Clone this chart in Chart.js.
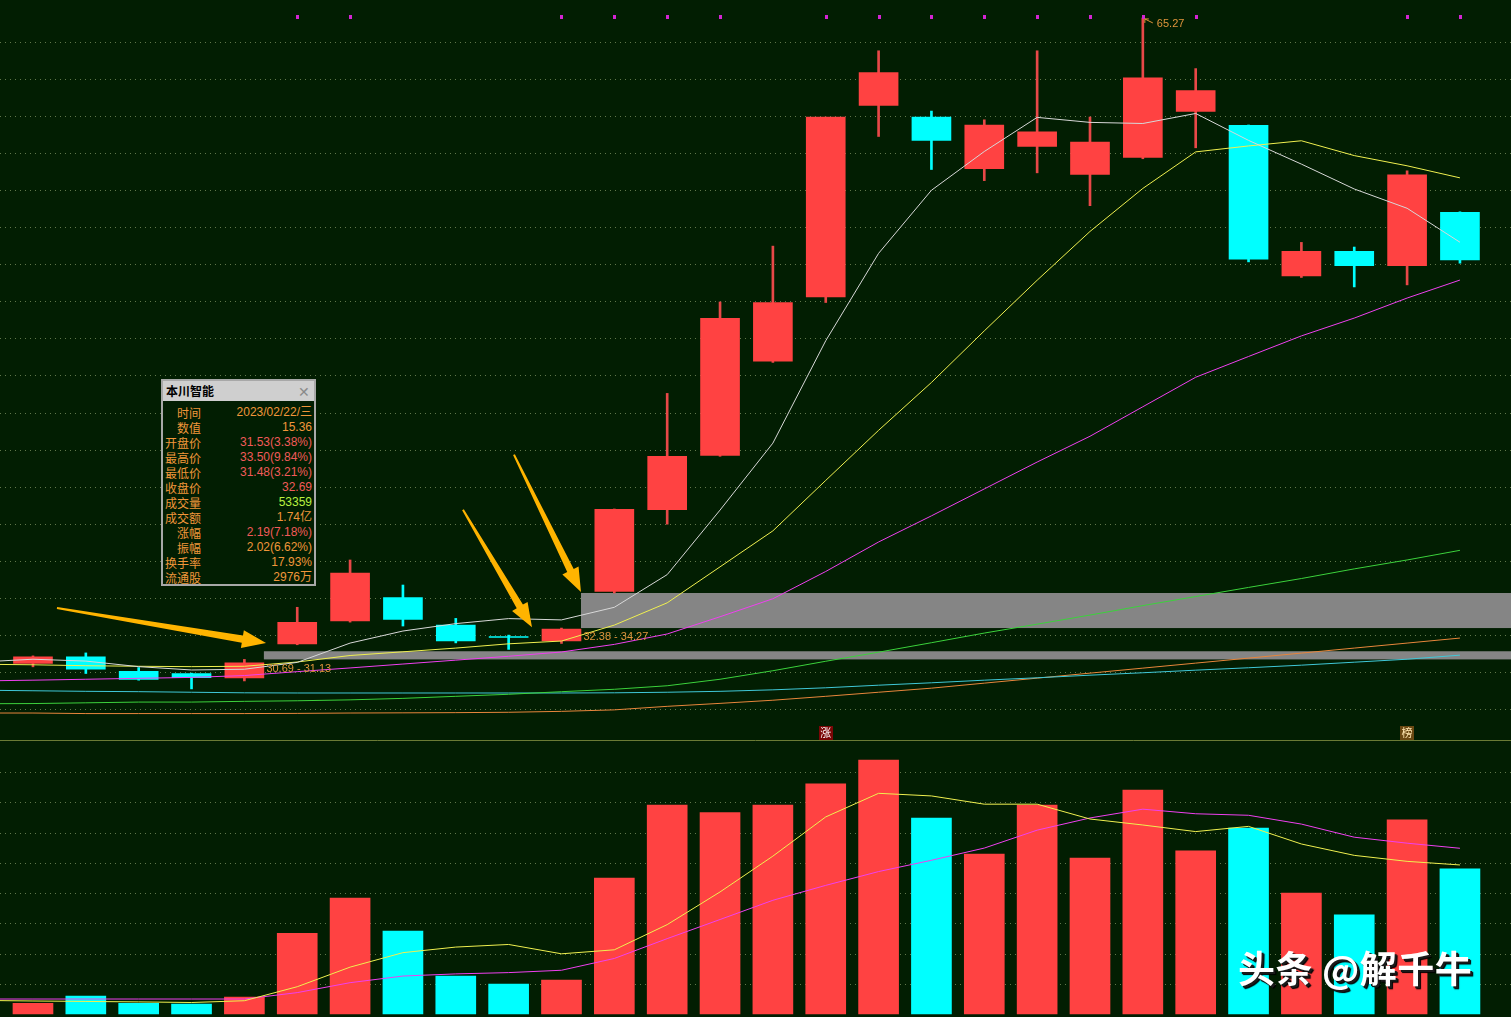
<!DOCTYPE html>
<html><head><meta charset="utf-8">
<script src="https://cdn.jsdelivr.net/npm/chart.js@4.4.0/dist/chart.umd.min.js"></script>
<style>
html,body{margin:0;padding:0;background:#021e02;width:1511px;height:1017px;overflow:hidden;}
#wrap{position:relative;width:1511px;height:1017px;background:#021e02;}
#pc{position:absolute;left:0;top:0;}
#vc{position:absolute;left:0;top:741px;}
#tip{position:absolute;left:161px;top:379px;width:151px;height:203px;border:2px solid #a8a8a8;background:#021e02;font-family:"Liberation Sans","Noto Sans CJK SC",sans-serif;font-size:12px;}
#tip .ttl{height:20px;background:#cfcfcf;color:#000;font-weight:bold;line-height:20px;padding-left:3px;position:relative;font-family:"Noto Sans CJK SC",sans-serif;}
#tip .ttl span{position:absolute;right:4px;top:0;color:#8a8a8a;font-weight:normal;font-size:14px;}
#tip .row{position:absolute;left:0;width:151px;height:15px;line-height:15px;}
#tip .lab{position:absolute;right:113px;color:#f0963a;font-family:"Noto Sans CJK SC",sans-serif;}
#tip .val{position:absolute;right:2px;white-space:nowrap;}
#wm{position:absolute;left:1238px;top:945px;font-family:"Noto Sans CJK SC",sans-serif;font-weight:bold;font-size:37px;line-height:44px;letter-spacing:0.5px;color:#ffffff;text-shadow:2px 2px 0 #1a1a1a,3px 3px 1px #000;white-space:nowrap;}
</style></head><body>
<div id="wrap">
<canvas id="pc" width="1511" height="741"></canvas>
<canvas id="vc" width="1511" height="276"></canvas>
<div id="tip"></div>
<div id="wm">头条 @解千牛</div>
</div>
<script>
// ---------- data ----------
const open  = [30.47,30.83,30.05,29.93,29.69,31.53,32.76,34.02,32.54,31.89,31.69,34.35,38.76,41.69,46.77,50.23,60.56,59.92,57.14,58.34,56.83,57.75,60.23,59.48,51.37,52.69,51.91,54.79];
const high  = [30.88,31.04,30.25,29.95,30.69,33.50,36.05,34.70,32.90,32.00,32.38,38.80,45.03,49.96,52.97,59.92,63.50,60.25,59.78,63.50,59.93,65.27,62.54,59.50,53.17,52.92,57.03,54.82];
const low   = [30.29,29.93,29.57,29.10,29.53,31.48,32.70,32.49,31.58,31.23,31.55,34.27,37.98,41.64,46.70,49.93,58.88,57.10,56.50,56.92,55.15,57.68,58.27,52.12,51.28,50.77,50.88,52.05];
const close = [30.83,30.16,29.61,29.71,30.50,32.69,35.35,32.85,31.69,31.87,32.32,38.78,41.64,49.08,49.93,59.92,62.32,58.67,59.50,59.13,58.58,62.04,61.35,52.27,52.69,51.91,56.81,52.23];
const volume= [7100,11900,7100,6600,11200,53359,76700,54900,25100,19800,22500,89900,138200,133100,138200,152100,167900,129600,105800,138200,103100,148100,107800,123000,80000,65500,128300,95900];

// moving averages, first value belongs to index -1
const MA_START = -1;
const ma5   = [30.55,30.70,30.60,30.30,30.12,30.16,30.53,31.57,32.22,32.62,32.89,32.82,33.50,35.26,38.74,42.35,47.87,52.58,55.98,58.07,59.91,59.64,59.58,60.12,58.67,57.39,56.05,55.01,53.18];
const ma10  = [30.43,30.40,30.35,30.32,30.30,30.32,30.55,30.90,31.10,31.30,31.53,31.68,32.54,33.74,35.68,37.62,40.34,43.04,45.62,48.40,51.13,53.76,56.08,58.05,58.37,58.65,57.85,57.30,56.65];
const ma20  = [29.53,29.57,29.62,29.67,29.72,29.82,30.03,30.23,30.44,30.65,30.86,31.09,31.50,32.06,32.99,33.96,35.43,37.02,38.43,39.88,41.33,42.72,44.31,45.90,47.02,48.13,49.09,50.17,51.14];
const maGreen = [28.30,28.31,28.35,28.39,28.39,28.43,28.46,28.51,28.59,28.70,28.81,28.95,29.08,29.27,29.62,30.08,30.59,31.08,31.59,32.11,32.59,33.08,33.59,34.08,34.57,35.05,35.57,36.05,36.57];
const maCyan  = [29.03,29.00,28.97,28.95,28.92,28.89,28.88,28.88,28.88,28.88,28.88,28.88,28.89,28.92,28.97,29.05,29.16,29.30,29.43,29.57,29.70,29.84,29.97,30.11,30.24,30.38,30.54,30.70,30.92];
const maOrange= [27.80,27.80,27.77,27.77,27.77,27.77,27.78,27.80,27.81,27.82,27.84,27.89,27.97,28.16,28.32,28.49,28.70,28.92,29.14,29.41,29.68,29.95,30.22,30.49,30.76,31.03,31.30,31.57,31.84];
const volMa5  = [9000,8600,8300,8000,7600,8780,18030,30990,40550,44250,45970,39800,42440,59100,80700,104380,130300,145900,144180,138720,138720,128920,124960,120600,124040,112400,104880,100920,98540];
const volMa10 = [9900,9900,9900,9900,9900,9900,14140,20710,25100,26510,27376,28916,36716,49826,62476,75176,85050,94170,101640,109710,121550,129610,135430,132390,131380,125560,116900,112940,109570];

const priceGrid = [28,30,32,34,36,38,40,42,44,46,48,50,52,54,56,58,60,62,64];
const volGrid = [20000,40000,60000,80000,100000,120000,140000,160000];
const signalIdx = [5,6,10,11,12,13,15,16,17,18,19,20,21,22,26,27];
const gaps = [
  {from:4,  lo:30.69, hi:31.13, label:'30.69 - 31.13'},
  {from:10, lo:32.38, hi:34.27, label:'32.38 - 34.27'}
];
const highMark = {idx:21, value:65.27, label:'65.27'};
const tags = [{idx:15, text:'涨', bg:'#7a0606', fg:'#ffffff'},{idx:26, text:'榜', bg:'#6a4812', fg:'#ffe6b0'}];
// arrows in data space: [index, price]
const arrows = [
  {from:[0.454,33.46], to:[4.41,31.57]},
  {from:[8.136,38.76], to:[9.442,32.43]},
  {from:[9.101,41.73], to:[10.369,34.32]}
];
const tipRows = [
  ['时间','2023/02/22/三','#f0963a'],
  ['数值','15.36','#f0963a'],
  ['开盘价','31.53(3.38%)','#f05a5a'],
  ['最高价','33.50(9.84%)','#f05a5a'],
  ['最低价','31.48(3.21%)','#f05a5a'],
  ['收盘价','32.69','#f05a5a'],
  ['成交量','53359','#b8f040'],
  ['成交额','1.74亿','#f0963a'],
  ['涨幅','2.19(7.18%)','#f05a5a'],
  ['振幅','2.02(6.62%)','#f0963a'],
  ['换手率','17.93%','#f0963a'],
  ['流通股','2976万','#f0963a']
];

// ---------- styles ----------
const RED='#ff4242', RED_WICK='#e84848', CYAN='#00ffff';
const GRID='rgba(130,150,100,0.75)';
const X_MIN=-0.624, X_MAX=27.966;
const PX_PER=18.55;
const P_MAX=34.27+593/PX_PER, P_MIN=34.27-148/PX_PER;
const V_MAX=273*20000/30.25, V_MIN=-3*20000/30.25;

const idx=[...Array(open.length).keys()];
const up=i=>close[i]>=open[i];
const lineDs=(arr,color,yid,w)=>({type:'line',data:arr.map((v,k)=>({x:k+MA_START,y:v})),borderColor:color,borderWidth:w||1,pointRadius:0,tension:0,fill:false,order:0,yAxisID:yid});

const gridPlugin=(vals,axis)=>({id:'grid'+axis,beforeDatasetsDraw(chart){
  const ctx=chart.ctx,s=chart.scales[axis],a=chart.chartArea;
  ctx.save();ctx.strokeStyle=GRID;ctx.lineWidth=1;ctx.setLineDash([1,4]);
  vals.forEach(v=>{const y=Math.round(s.getPixelForValue(v))+0.5;ctx.beginPath();ctx.moveTo(a.left,y);ctx.lineTo(a.right,y);ctx.stroke();});
  ctx.restore();}});

const bandPlugin={id:'bands',beforeDatasetsDraw(chart){
  const ctx=chart.ctx,xs=chart.scales.x,ys=chart.scales.y,a=chart.chartArea;
  ctx.save();ctx.fillStyle='#858585';
  gaps.forEach(g=>{const x0=xs.getPixelForValue(g.from)+19.5;const y0=ys.getPixelForValue(g.hi),y1=ys.getPixelForValue(g.lo);ctx.fillRect(x0,y0,a.right-x0,y1-y0);});
  ctx.restore();}};

function drawArrow(ctx,x1,y1,x2,y2){
  const dx=x2-x1,dy=y2-y1,len=Math.hypot(dx,dy),ux=dx/len,uy=dy/len,nx=-uy,ny=ux;
  const hl=24,hw=9,s0=1,s1=3.6;const bx=x2-ux*hl,by=y2-uy*hl;
  ctx.beginPath();ctx.moveTo(x1+nx*s0,y1+ny*s0);ctx.lineTo(bx+nx*s1,by+ny*s1);ctx.lineTo(bx+nx*hw,by+ny*hw);ctx.lineTo(x2,y2);
  ctx.lineTo(bx-nx*hw,by-ny*hw);ctx.lineTo(bx-nx*s1,by-ny*s1);ctx.lineTo(x1-nx*s0,y1-ny*s0);ctx.closePath();ctx.fill();
}

const annoPlugin={id:'anno',afterDatasetsDraw(chart){
  const ctx=chart.ctx,xs=chart.scales.x,ys=chart.scales.y,a=chart.chartArea;
  ctx.save();
  // gap labels
  ctx.font='11px "Liberation Sans","DejaVu Sans",sans-serif';ctx.fillStyle='#e0943c';ctx.textBaseline='top';ctx.textAlign='left';
  gaps.forEach((g,k)=>{const x0=xs.getPixelForValue(g.from)+21;const y1=ys.getPixelForValue(g.lo);ctx.fillText(g.label,x0+1,y1+(k===0?4:3));});
  // signal markers
  ctx.fillStyle='#d424d4';
  signalIdx.forEach(i=>{const x=Math.round(xs.getPixelForValue(i));ctx.fillRect(x-1,a.top+15,3,4);});
  // high mark
  const hx=xs.getPixelForValue(highMark.idx),hy=ys.getPixelForValue(highMark.value);
  ctx.strokeStyle='#e0943c';ctx.lineWidth=1;ctx.beginPath();ctx.moveTo(hx+2,hy+1);ctx.lineTo(hx+10,hy+5);ctx.moveTo(hx+2,hy+1);ctx.lineTo(hx+2,hy+5);ctx.moveTo(hx+2,hy+1);ctx.lineTo(hx+6,hy+1);ctx.stroke();
  ctx.fillStyle='#e0943c';ctx.textBaseline='middle';ctx.fillText(highMark.label,hx+14,hy+6);
  // arrows
  ctx.fillStyle='#ffb400';
  arrows.forEach(r=>drawArrow(ctx,xs.getPixelForValue(r.from[0]),ys.getPixelForValue(r.from[1]),xs.getPixelForValue(r.to[0]),ys.getPixelForValue(r.to[1])));
  // tags
  ctx.font='11px "Noto Sans CJK SC",sans-serif';ctx.textAlign='center';ctx.textBaseline='middle';
  tags.forEach(t=>{const x=xs.getPixelForValue(t.idx);ctx.fillStyle=t.bg;ctx.fillRect(Math.round(x)-7,a.bottom-15,14,14);ctx.fillStyle=t.fg;ctx.fillText(t.text,x,a.bottom-8);});
  // separator
  ctx.strokeStyle='#6b7b35';ctx.lineWidth=1;ctx.beginPath();ctx.moveTo(a.left,a.bottom-0.5);ctx.lineTo(a.right,a.bottom-0.5);ctx.stroke();
  ctx.restore();}};

const commonOpts=(ymin,ymax)=>({responsive:false,animation:false,events:[],
  layout:{padding:0},
  plugins:{legend:{display:false},tooltip:{enabled:false}},
  scales:{x:{type:'linear',min:X_MIN,max:X_MAX,display:false,offset:false},
          y:{type:'linear',min:ymin,max:ymax,display:false,beginAtZero:false}}});

new Chart(document.getElementById('pc'),{
  type:'bar',
  data:{datasets:[
    lineDs(ma5,'#d8d8d8','y'),
    lineDs(ma10,'#f0f050','y'),
    lineDs(ma20,'#f040f0','y'),
    lineDs(maGreen,'#3cd23c','y'),
    lineDs(maCyan,'#40c8d8','y'),
    lineDs(maOrange,'#e8863c','y'),
    {type:'bar',data:idx.map(i=>({x:i,y:[open[i],close[i]]})),backgroundColor:idx.map(i=>up(i)?RED:CYAN),barThickness:39,grouped:false,minBarLength:1,borderWidth:0,order:1},
    {type:'bar',data:idx.map(i=>({x:i,y:[low[i],high[i]]})),backgroundColor:idx.map(i=>up(i)?RED_WICK:CYAN),barThickness:2,grouped:false,borderWidth:0,order:2}
  ]},
  options:commonOpts(P_MIN,P_MAX),
  plugins:[gridPlugin(priceGrid,'y'),bandPlugin,annoPlugin]
});

new Chart(document.getElementById('vc'),{
  type:'bar',
  data:{datasets:[
    lineDs(volMa5,'#f0f050','y'),
    lineDs(volMa10,'#f040f0','y'),
    {type:'bar',data:idx.map(i=>({x:i,y:volume[i]})),backgroundColor:idx.map(i=>up(i)?RED:CYAN),barThickness:40,grouped:false,borderWidth:0,order:1}
  ]},
  options:commonOpts(V_MIN,V_MAX),
  plugins:[gridPlugin(volGrid,'y')]
});

// info box
const tip=document.getElementById('tip');
let h='<div class="ttl">本川智能<span>✕</span></div>';
tipRows.forEach((r,k)=>{h+='<div class="row" style="top:'+(24+k*15)+'px"><span class="lab">'+r[0]+'</span><span class="val" style="color:'+r[2]+'">'+r[1]+'</span></div>';});
tip.innerHTML=h;
</script>
</body></html>
